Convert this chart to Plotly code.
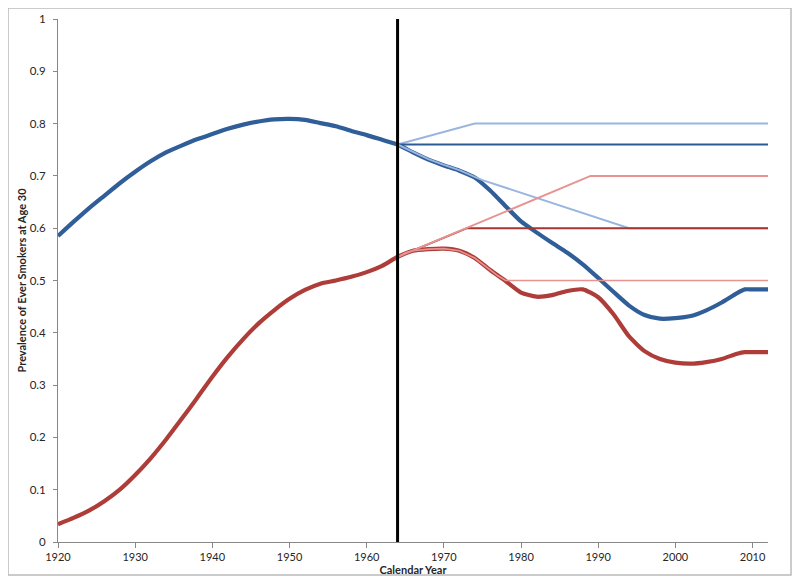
import plotly.graph_objects as go

# ---- data ----
years_hist = [1920, 1922, 1924, 1926, 1928, 1930, 1932, 1934, 1936, 1938, 1940, 1942,
              1944, 1946, 1948, 1950, 1952, 1954, 1956, 1958, 1960, 1962]
blue_hist = [0.585, 0.612, 0.638, 0.662, 0.686, 0.708, 0.728, 0.745, 0.758, 0.770, 0.780, 0.790,
             0.798, 0.804, 0.808, 0.809, 0.807, 0.801, 0.795, 0.786, 0.778, 0.769]
red_hist = [0.034, 0.046, 0.060, 0.078, 0.100, 0.128, 0.160, 0.196, 0.235, 0.275, 0.316, 0.354,
            0.388, 0.418, 0.443, 0.465, 0.482, 0.494, 0.500, 0.507, 0.516, 0.528]

years_post = [1964, 1966, 1968, 1970, 1972, 1974, 1976, 1978, 1980, 1982, 1984, 1986, 1988,
              1990, 1992, 1994, 1996, 1998, 2000, 2002, 2004, 2006, 2008, 2009, 2010, 2012]
blue_post = [0.760, 0.745, 0.731, 0.720, 0.710, 0.697, 0.672, 0.642, 0.613, 0.592, 0.572, 0.553, 0.531,
             0.505, 0.478, 0.452, 0.434, 0.427, 0.428, 0.432, 0.443, 0.458, 0.476, 0.483, 0.483, 0.483]
red_post = [0.545, 0.557, 0.560, 0.561, 0.557, 0.543, 0.520, 0.499, 0.477, 0.469, 0.472, 0.480, 0.483,
            0.468, 0.435, 0.393, 0.365, 0.350, 0.343, 0.341, 0.344, 0.350, 0.360, 0.363, 0.363, 0.363]

# scenario lines
hi_blue_x = [1964, 1974, 2012]
hi_blue_y = [0.760, 0.800, 0.800]
flat_blue_x = [1964, 2012]
flat_blue_y = [0.760, 0.760]
low_blue_x = [1964, 1966, 1968, 1970, 1972, 1974, 1975, 1994, 2012]
low_blue_y = [0.760, 0.746, 0.732, 0.721, 0.711, 0.698, 0.692, 0.600, 0.600]
hi_red_x = [1964, 1989, 2012]
hi_red_y = [0.545, 0.700, 0.700]
mid_red_x = [1964, 1973, 2012]
mid_red_y = [0.545, 0.600, 0.600]
low_red_x = [1964, 1965, 1966, 1968, 1970, 1972, 1974, 1976, 1977, 1978, 2012]
low_red_y = [0.545, 0.553, 0.557, 0.560, 0.561, 0.557, 0.543, 0.520, 0.509, 0.500, 0.500]

event_year = [1964, 1964]
event_y = [0, 1]

x_ticks = [1920, 1930, 1940, 1950, 1960, 1970, 1980, 1990, 2000, 2010]
y_ticks = [0, 0.1, 0.2, 0.3, 0.4, 0.5, 0.6, 0.7, 0.8, 0.9, 1]
y_tick_text = ["0", "0.1", "0.2", "0.3", "0.4", "0.5", "0.6", "0.7", "0.8", "0.9", "1"]

# ---- colours ----
C_BLUE = "#2F5E98"
C_RED = "#AE3C38"
C_LBLUE = "#9AB6E0"
C_DBLUE = "#2C5A95"
C_LRED = "#E69391"
C_DRED = "#A53632"

fig = go.Figure()

def add(x, y, color, width, shape="linear"):
    line = dict(color=color, width=width, shape=shape)
    if shape == "spline":
        line["smoothing"] = 0.6
    fig.add_trace(go.Scatter(x=x, y=y, mode="lines", line=line,
                             showlegend=False, hoverinfo="skip"))

add(years_hist + years_post, blue_hist + blue_post, C_BLUE, 4.2, "spline")
add(years_hist + years_post, red_hist + red_post, C_RED, 4.2, "spline")
add(hi_blue_x, hi_blue_y, C_LBLUE, 2)
add(flat_blue_x, flat_blue_y, C_DBLUE, 2)
add(low_blue_x, low_blue_y, C_LBLUE, 2)
add(mid_red_x, mid_red_y, C_DRED, 2)
add(hi_red_x, hi_red_y, C_LRED, 2)
add(low_red_x, low_red_y, C_LRED, 1.6)
add(event_year, event_y, "#000000", 3)

font = "Lato, 'Open Sans', sans-serif"

# page has an 8px body margin; figure is sized so it fits the 800x584 window
fig.update_layout(
    width=784, height=568,
    margin=dict(l=50, r=24, t=11, b=34, autoexpand=False),
    paper_bgcolor="white", plot_bgcolor="white",
    font=dict(family=font, size=11, color="#262626"),
    xaxis=dict(range=[1920, 2012], tickvals=x_ticks, ticks="outside", ticklen=5,
               tickcolor="#888888", showline=True, linecolor="#888888", linewidth=1,
               showgrid=False, zeroline=False, tickfont=dict(size=11), automargin=False,
               title=dict(text="<b>Calendar Year</b>", standoff=2, font=dict(size=11))),
    yaxis=dict(range=[0, 1], tickvals=y_ticks, ticktext=y_tick_text, ticks="outside", ticklen=4,
               tickcolor="#888888", showline=True, linecolor="#888888", linewidth=1,
               showgrid=False, zeroline=False, tickfont=dict(size=11.5), automargin=False,
               ticklabelstandoff=5,
               title=dict(text="<b>Prevalence of Ever Smokers at Age 30</b>", standoff=0,
                          font=dict(size=11))),
    shapes=[dict(type="rect", xref="paper", yref="paper",
                 x0=-0.0704, x1=1.0324, y0=-0.0631, y1=1.0210,
                 line=dict(color="#BBBBBB", width=1.5), fillcolor="rgba(0,0,0,0)")],
)

fig.write_html("out.html")
